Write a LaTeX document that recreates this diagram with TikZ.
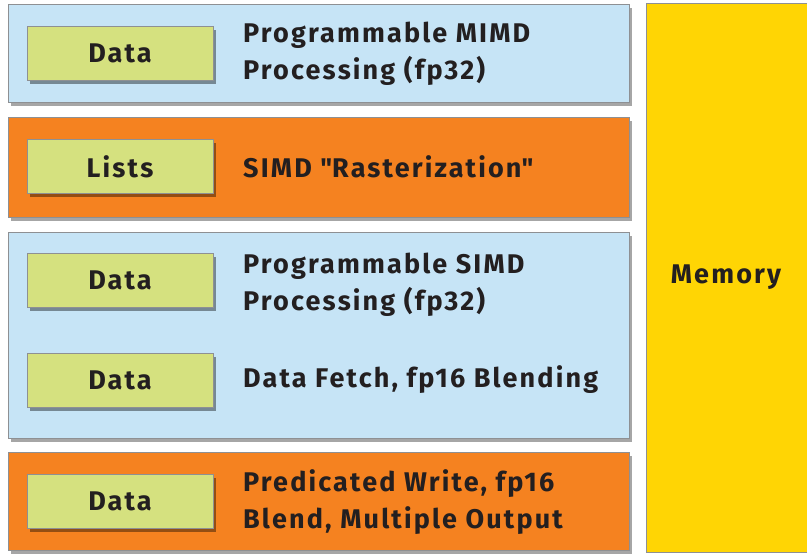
\documentclass[tikz,border=0pt]{standalone}
\usepackage{fontspec}
\setmainfont{Fira Sans}[LetterSpace=8]
\usetikzlibrary{shadows}
\definecolor{bandblue}{HTML}{C6E4F6}
\definecolor{bandorange}{HTML}{F58220}
\definecolor{boxgreen}{HTML}{D5E17F}
\definecolor{memyellow}{HTML}{FFD504}
\definecolor{edgegrey}{HTML}{8E9093}
\definecolor{txt}{HTML}{231F20}
\tikzset{
  band/.style={draw=edgegrey, line width=1pt, rectangle, inner sep=0pt,
    drop shadow={shadow xshift=3pt, shadow yshift=-3.5pt, fill=black, opacity=0.35}},
  databox/.style={draw=edgegrey, line width=0.8pt, fill=boxgreen, rectangle,
    minimum width=186pt, minimum height=54pt, inner sep=0pt,
    font=\fontsize{27}{32}\selectfont\bfseries, text=txt,
    drop shadow={shadow xshift=3pt, shadow yshift=-3.5pt, fill=black, opacity=0.4}},
  lbl/.style={anchor=west, align=left, inner sep=0pt, text=txt,
    font=\fontsize{27}{37}\selectfont\bfseries}
}
\begin{document}
\begin{tikzpicture}[x=1pt,y=-1pt]
\useasboundingbox (0,0) rectangle (807,555);
\fill[white] (0,0) rectangle (807,555);
% bands
\node[band, fill=bandblue, minimum width=621pt, minimum height=98pt] (b1) at (318.5,53) {};
\node[band, fill=bandorange, minimum width=621pt, minimum height=100pt] (b2) at (318.5,167) {};
\node[band, fill=bandblue, minimum width=621pt, minimum height=206pt] (b3) at (318.5,335) {};
\node[band, fill=bandorange, minimum width=621pt, minimum height=98pt] (b4) at (318.5,501) {};
% memory
\node[fill=memyellow, rectangle, inner sep=0pt, minimum width=160pt, minimum height=548pt] (mem) at (727,278) {};
\node[text=txt, font=\fontsize{27}{32}\selectfont\bfseries, inner sep=0pt] (memlbl) at (726,277) {Memory};
\draw[edgegrey, line width=1pt] (mem.north east) -- (mem.north west) -- (mem.south west) -- (mem.south east);
% green boxes
\node[databox] (d1) at (120,53) {Data};
\node[databox] (d2) at (120,166.5) {Lists};
\node[databox] (d3) at (120,280.5) {Data};
\node[databox] (d4) at (120,380) {Data};
\node[databox] (d5) at (120,501) {Data};
% labels
\node[lbl] (t1) at (243,54) {Programmable MIMD\\Processing (fp32)};
\node[lbl] (t2) at (243,166.5) {SIMD \textquotedbl Rasterization\textquotedbl};
\node[lbl] (t3) at (243,285) {Programmable SIMD\\Processing (fp32)};
\node[lbl] (t4) at (243,380) {Data Fetch, fp16 Blending};
\node[lbl] (t5) at (243,502) {Predicated Write, fp16\\Blend, Multiple Output};
\end{tikzpicture}
\end{document}
